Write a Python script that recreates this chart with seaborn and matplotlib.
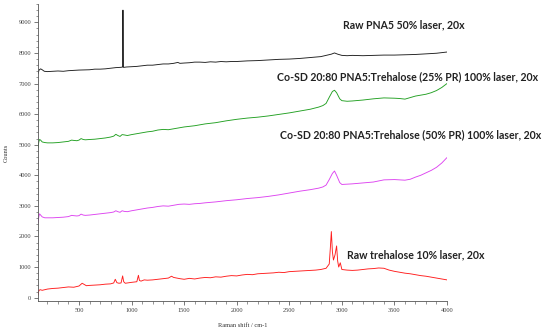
import matplotlib
matplotlib.use("Agg")
import matplotlib.pyplot as plt
import seaborn as sns
import pandas as pd
from matplotlib.ticker import MultipleLocator

# ---------------- data ----------------
pna5_x = [110, 120, 135, 150, 170, 200, 250, 300, 350, 400, 450, 500, 550, 600, 650,
          700, 750, 800, 850, 900, 915, 918, 920, 922, 930, 950, 1000, 1050, 1100, 1150,
          1200, 1250, 1300, 1350, 1400, 1440, 1460, 1500, 1550, 1600, 1650, 1700, 1750,
          1800, 1850, 1900, 1950, 2000, 2100, 2200, 2300, 2400, 2500, 2600, 2700, 2800,
          2850, 2900, 2930, 2960, 3000, 3050, 3100, 3200, 3300, 3400, 3500, 3600, 3700,
          3800, 3900, 3950, 4000]
pna5_y = [7320, 7440, 7480, 7450, 7400, 7390, 7400, 7410, 7400, 7420, 7430, 7440, 7445, 7450, 7470,
          7470, 7480, 7500, 7520, 7530, 7540, 9400, 8400, 7530, 7530, 7540, 7550, 7560, 7580, 7600,
          7600, 7620, 7640, 7640, 7660, 7690, 7660, 7670, 7680, 7700, 7700, 7690, 7710,
          7700, 7720, 7710, 7720, 7720, 7740, 7750, 7770, 7790, 7800, 7820, 7850, 7880,
          7920, 7960, 8000, 7960, 7920, 7910, 7920, 7910, 7920, 7930, 7930, 7940, 7950,
          7970, 7990, 8010, 8030]

cosd_x = [110, 118, 125, 135, 150, 175, 200, 250, 300, 350, 400, 430, 450, 480, 500,
          520, 540, 560, 600, 650, 700, 750, 800, 830, 850, 870, 890, 910, 930, 960,
          1000, 1050, 1100, 1150, 1200, 1250, 1300, 1350, 1400, 1450, 1500, 1550, 1600,
          1650, 1700, 1800, 1900, 2000, 2100, 2200, 2300, 2400, 2500, 2600, 2700, 2780,
          2820, 2850, 2880, 2910, 2930, 2950, 2980, 3000, 3050, 3100, 3200, 3300, 3400,
          3500, 3550, 3600, 3650, 3700, 3750, 3800, 3850, 3900, 3950, 4000]
cosd25_y = [4900, 5100, 5170, 5150, 5090, 5070, 5060, 5060, 5070, 5090, 5110, 5150, 5140, 5130, 5150,
            5200, 5170, 5160, 5170, 5180, 5200, 5220, 5250, 5280, 5340, 5300, 5270, 5330, 5320, 5300,
            5330, 5360, 5390, 5420, 5440, 5480, 5500, 5490, 5520, 5550, 5580, 5600, 5620,
            5650, 5680, 5720, 5780, 5830, 5870, 5900, 5940, 5990, 6040, 6100, 6160, 6230,
            6280, 6350, 6550, 6740, 6780, 6700, 6500, 6440, 6420, 6430, 6460, 6500, 6530,
            6520, 6510, 6490, 6540, 6590, 6620, 6650, 6700, 6770, 6870, 7000]
cosd50_y = [2450, 2650, 2740, 2700, 2640, 2610, 2610, 2610, 2620, 2630, 2650, 2690, 2680, 2670, 2680,
            2730, 2700, 2690, 2700, 2720, 2740, 2760, 2780, 2800, 2840, 2810, 2790, 2840, 2820, 2810,
            2840, 2870, 2900, 2930, 2950, 2980, 3000, 2990, 3020, 3050, 3060, 3050, 3070,
            3080, 3100, 3130, 3170, 3200, 3240, 3270, 3310, 3360, 3420, 3480, 3530, 3580,
            3620, 3680, 3860, 4060, 4140, 4000, 3760, 3700, 3710, 3720, 3750, 3780, 3850,
            3860, 3850, 3840, 3870, 3940, 4000, 4080, 4160, 4260, 4400, 4580]

treh_x = [110, 118, 130, 150, 200, 250, 300, 350, 400, 450, 500, 530, 550, 570, 600,
          650, 700, 750, 800, 830, 845, 860, 880, 900, 915, 925, 940, 960, 1000, 1050,
          1065, 1075, 1090, 1120, 1150, 1200, 1250, 1300, 1350, 1380, 1400, 1430, 1460,
          1500, 1550, 1600, 1650, 1700, 1750, 1800, 1850, 1900, 1950, 2000, 2050, 2100,
          2150, 2200, 2250, 2300, 2350, 2400, 2450, 2500, 2550, 2600, 2650, 2700, 2750,
          2800, 2850, 2880, 2890, 2900, 2910, 2920, 2935, 2950, 2960, 2970, 2985, 3000,
          3050, 3100, 3150, 3200, 3250, 3300, 3350, 3400, 3450, 3500, 3550, 3600, 3650,
          3700, 3750, 3800, 3850, 3900, 3950, 4000]
treh_y = [80, 230, 260, 240, 280, 300, 310, 330, 350, 340, 380, 470, 430, 390, 400,
          410, 420, 440, 450, 480, 600, 490, 470, 480, 710, 520, 470, 480, 500, 520,
          730, 560, 540, 580, 570, 580, 600, 620, 640, 700, 660, 640, 620,
          600, 630, 610, 640, 660, 650, 680, 670, 700, 720, 710, 740, 760,
          750, 780, 790, 800, 810, 830, 820, 850, 860, 870, 880, 890, 900,
          920, 960, 1100, 1600, 2160, 1500, 1230, 1400, 1690, 1200, 1000, 1140, 920,
          900, 890, 900, 920, 940, 950, 970, 960, 900, 860, 830, 800, 780,
          750, 720, 700, 670, 640, 610, 580]

labels = ["Raw PNA5 50% laser, 20x",
          "Co-SD 20:80 PNA5:Trehalose (25% PR) 100% laser, 20x",
          "Co-SD 20:80 PNA5:Trehalose (50% PR) 100% laser, 20x",
          "Raw trehalose 10% laser, 20x"]
colors = ["#1e1e1e", "#22a022", "#dd44f0", "#ff1c1c"]
x_ticks = [500, 1000, 1500, 2000, 2500, 3000, 3500, 4000]
y_ticks = [0, 1000, 2000, 3000, 4000, 5000, 6000, 7000, 8000, 9000]

series = [(pna5_x, pna5_y), (cosd_x, cosd25_y), (cosd_x, cosd50_y), (treh_x, treh_y)]

# ---------------- plot ----------------
sns.set_style("ticks")
plt.rcParams['font.family'] = ['Liberation Serif', 'DejaVu Serif']

W, H = 550, 333
fig = plt.figure(figsize=(W / 100, H / 100), dpi=100)
ax = fig.add_axes([38 / W, 1 - 301 / H, (447 - 38) / W, (301 - 4) / H])

for (sx, sy), c in zip(series, colors):
    n = min(len(sx), len(sy))
    df = pd.DataFrame({"x": sx[:n], "y": sy[:n]})
    sns.lineplot(data=df, x="x", y="y", ax=ax, color=c, lw=0.65,
                 sort=False, estimator=None)

ax.set_xlim(110, 4000)
ax.set_ylim(-110, 9600)
ax.set_xticks(x_ticks)
ax.set_yticks(y_ticks)
ax.xaxis.set_minor_locator(MultipleLocator(100))
ax.yaxis.set_minor_locator(MultipleLocator(200))
ax.tick_params(which="major", direction="out", length=3, width=0.5,
               labelsize=4.6, colors="#444444", pad=2)
ax.tick_params(which="minor", direction="out", length=1.8, width=0.4, colors="#444444")
for s in ["top", "right"]:
    ax.spines[s].set_visible(False)
for s in ["left", "bottom"]:
    ax.spines[s].set_linewidth(0.6)
    ax.spines[s].set_color("#555555")

ax.set_xlabel("Raman shift / cm-1", fontsize=4.6, color="#333333", labelpad=7)
ax.set_ylabel("Counts", fontsize=4.6, color="#333333", labelpad=7)

text_pos = [(343, 25), (277, 77), (280, 135), (347, 255)]
for lab, (px, py) in zip(labels, text_pos):
    fig.text(px / W, 1 - py / H, lab, family=["Lato", "DejaVu Sans"],
             fontweight="bold", fontsize=7.6, color="#222222", ha="left", va="center")

fig.savefig("out.png", dpi=100)
